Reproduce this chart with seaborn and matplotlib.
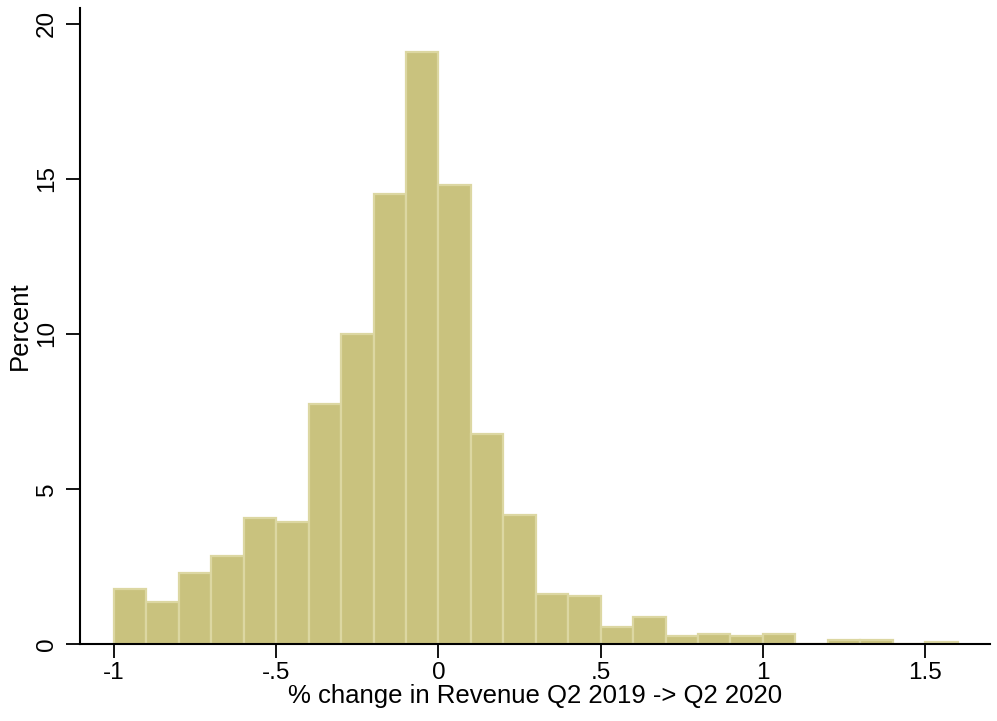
import numpy as np
import pandas as pd
import seaborn as sns
import matplotlib.pyplot as plt

# bin left edges (width 0.1) and percent of firms in each bin
bin_starts = [-1.0, -0.9, -0.8, -0.7, -0.6, -0.5, -0.4, -0.3, -0.2, -0.1,
              0.0, 0.1, 0.2, 0.3, 0.4, 0.5, 0.6, 0.7, 0.8, 0.9,
              1.0, 1.1, 1.2, 1.3, 1.4, 1.5]
percent = [1.78, 1.35, 2.3, 2.84, 4.06, 3.94, 7.74, 10.0, 14.5, 19.1,
           14.8, 6.77, 4.16, 1.6, 1.55, 0.55, 0.87, 0.26, 0.32, 0.26,
           0.32, 0.0, 0.13, 0.13, 0.0, 0.07]
bin_width = 0.1

tick_pos = [-1, -0.5, 0, 0.5, 1, 1.5]
tick_lab = ["-1", "-.5", "0", ".5", "1", "1.5"]
ytick_pos = [0, 5, 10, 15, 20]

df = pd.DataFrame({"start": bin_starts, "pct": percent})
df["mid"] = df["start"] + bin_width / 2
edges = [round(s, 2) for s in bin_starts] + [round(bin_starts[-1] + bin_width, 2)]

sns.set_style("ticks")
plt.rcParams["font.family"] = ["Liberation Sans", "DejaVu Sans"]

fig = plt.figure(figsize=(9.97, 7.21), dpi=100)
ax = fig.add_axes([0.0802, 0.1068, 0.9128, 0.882])

sns.histplot(data=df, x="mid", weights="pct", bins=edges, ax=ax,
             stat="count", color="#c9c27e", alpha=1,
             edgecolor="#dcd7a2", linewidth=1.6)

ax.set_xlim(-1.105, 1.70)
ax.set_ylim(0, 20.5)
ax.set_xticks(tick_pos)
ax.set_xticklabels(tick_lab)
ax.set_yticks(ytick_pos)
ax.set_yticklabels([str(v) for v in ytick_pos], rotation=90, va="center")

ax.tick_params(axis="both", labelsize=17.5, length=10, width=1.3, color="black",
               labelcolor="black", direction="out")
ax.tick_params(axis="x", pad=3)
ax.tick_params(axis="y", pad=6)
for side in ["left", "bottom"]:
    ax.spines[side].set_linewidth(1.5)
    ax.spines[side].set_color("black")
ax.spines["right"].set_visible(False)
ax.spines["top"].set_visible(False)

ax.set_xlabel("% change in Revenue Q2 2019 -> Q2 2020", fontsize=18.5,
              color="black", labelpad=0)
ax.set_ylabel("Percent", fontsize=18.5, color="black", labelpad=3)

fig.savefig("out.png", dpi=100)
